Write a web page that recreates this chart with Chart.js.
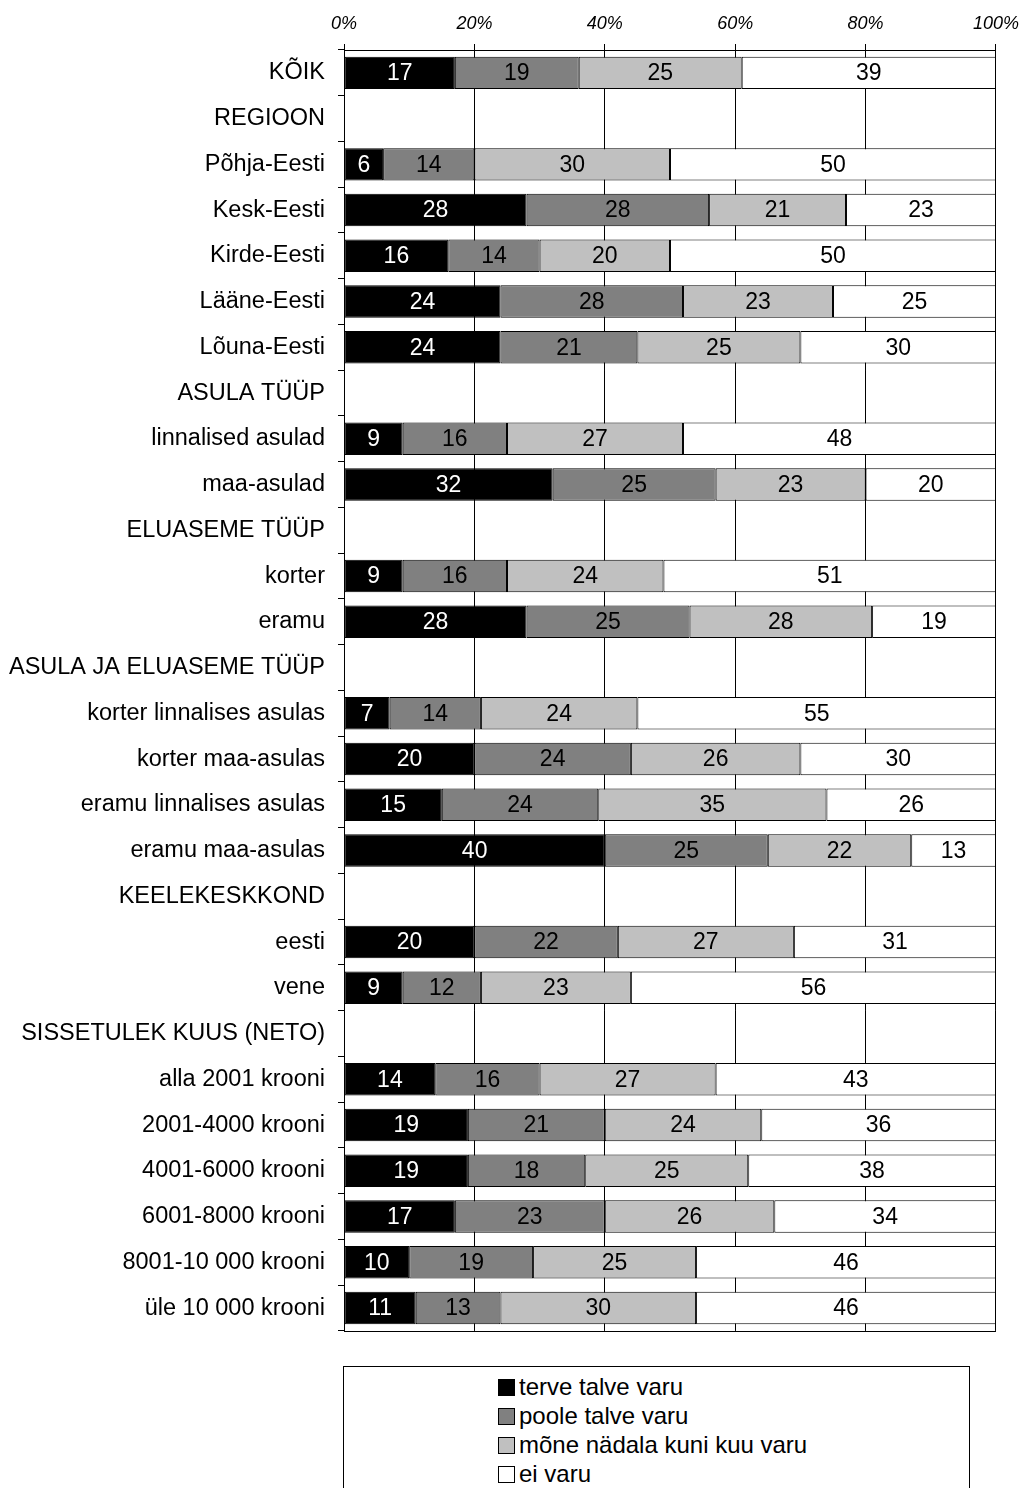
<!DOCTYPE html>
<html>
<head>
<meta charset="utf-8">
<script src="https://cdn.jsdelivr.net/npm/chart.js@4.4.1/dist/chart.umd.min.js"></script>
<style>
    body { margin: 0; background: #fff; font-family: Arial, "Liberation Sans", sans-serif; }
    #wrap { position: relative; width: 1021px; height: 1488px; overflow: hidden; }
    #chartBox { position: absolute; left: 0; top: 0; width: 1028px; height: 1358px; }
    #legendBox {
        position: absolute; left: 343px; top: 1366px; width: 627px; height: 140px;
        border: 1px solid #000; box-sizing: border-box;
    }
    .item { position: absolute; left: 154px; height: 29px; line-height: 29px; font-size: 24px; color: #000; white-space: nowrap; }
    .sq { display: inline-block; width: 17px; height: 17px; border: 1px solid #000; box-sizing: border-box; margin-right: 4px; vertical-align: -1px; }
</style>
</head>
<body>
<div id="wrap">
    <div id="chartBox"><canvas id="myChart"></canvas></div>
    <div id="legendBox"></div>
</div>
<script>
const categories = [
    'KÕIK', 'REGIOON', 'Põhja-Eesti', 'Kesk-Eesti', 'Kirde-Eesti', 'Lääne-Eesti', 'Lõuna-Eesti',
    'ASULA TÜÜP', 'linnalised asulad', 'maa-asulad',
    'ELUASEME TÜÜP', 'korter', 'eramu',
    'ASULA JA ELUASEME TÜÜP', 'korter linnalises asulas', 'korter maa-asulas', 'eramu linnalises asulas', 'eramu maa-asulas',
    'KEELEKESKKOND', 'eesti', 'vene',
    'SISSETULEK KUUS (NETO)', 'alla 2001 krooni', '2001-4000 krooni', '4001-6000 krooni', '6001-8000 krooni', '8001-10 000 krooni', 'üle 10 000 krooni'
];
const seriesNames = ['terve talve varu', 'poole talve varu', 'mõne nädala kuni kuu varu', 'ei varu'];

// null = header row without a bar
const terveTalve = [17, null, 6, 28, 16, 24, 24, null, 9, 32, null, 9, 28, null, 7, 20, 15, 40, null, 20, 9, null, 14, 19, 19, 17, 10, 11];
const pooleTalve = [19, null, 14, 28, 14, 28, 21, null, 16, 25, null, 16, 25, null, 14, 24, 24, 25, null, 22, 12, null, 16, 21, 18, 23, 19, 13];
const moneNadala = [25, null, 30, 21, 20, 23, 25, null, 27, 23, null, 24, 28, null, 24, 26, 35, 22, null, 27, 23, null, 27, 24, 25, 26, 25, 30];
const eiVaru = [39, null, 50, 23, 50, 25, 30, null, 48, 20, null, 51, 19, null, 55, 30, 26, 13, null, 31, 56, null, 43, 36, 38, 34, 46, 46];
const xTicks = [0, 20, 40, 60, 80, 100];

const colors = ['#000000', '#808080', '#C0C0C0', '#FFFFFF'];
const labelColors = ['#FFFFFF', '#000000', '#000000', '#000000'];
const allSeries = [terveTalve, pooleTalve, moneNadala, eiVaru];

const font = 'Arial, "Liberation Sans", sans-serif';

const valueLabels = {
    id: 'valueLabels',
    afterDatasetsDraw(chart) {
        const ctx = chart.ctx;
        ctx.save();
        ctx.font = '23px ' + font;
        ctx.textAlign = 'center';
        ctx.textBaseline = 'middle';
        chart.data.datasets.forEach((ds, i) => {
            const meta = chart.getDatasetMeta(i);
            meta.data.forEach((bar, j) => {
                const v = ds.data[j];
                if (v === null) return;
                const p = bar.getProps(['x', 'y', 'base'], true);
                ctx.fillStyle = labelColors[i];
                ctx.fillText(String(v), (p.x + p.base) / 2, p.y + 1);
            });
        });
        ctx.restore();
    }
};

const frame = {
    id: 'frame',
    afterDraw(chart) {
        const a = chart.chartArea;
        const ctx = chart.ctx;
        ctx.save();
        ctx.strokeStyle = '#000';
        ctx.lineWidth = 1;
        ctx.beginPath();
        ctx.moveTo(a.left, Math.round(a.bottom) + 0.5);
        ctx.lineTo(a.right, Math.round(a.bottom) + 0.5);
        ctx.stroke();
        ctx.restore();
    }
};

const data = {
    labels: categories,
    datasets: allSeries.map((s, i) => ({
        label: seriesNames[i],
        data: s,
        backgroundColor: colors[i],
        borderColor: '#000000',
        borderWidth: 1,
        borderSkipped: false,
        barPercentage: 0.71,
        categoryPercentage: 1
    }))
};

const config = {
    type: 'bar',
    data: data,
    options: {
        indexAxis: 'y',
        responsive: true,
        maintainAspectRatio: false,
        animation: false,
        layout: { padding: 0 },
        plugins: { legend: { display: false }, tooltip: { enabled: false } },
        scales: {
            x: {
                position: 'top',
                stacked: true,
                min: 0,
                max: 100,
                afterBuildTicks: (scale) => { scale.ticks = xTicks.map(v => ({ value: v })); },
                afterFit: (scale) => { scale.height = 50; },
                ticks: {
                    callback: (v) => v + '%',
                    color: '#000',
                    padding: 9,
                    maxRotation: 0,
                    font: { family: font, size: 18, style: 'italic' }
                },
                grid: { color: '#000', lineWidth: 1, tickLength: 6 },
                border: { color: '#000', width: 1 }
            },
            y: {
                stacked: true,
                afterFit: (scale) => { scale.width = 344; },
                ticks: {
                    color: '#000',
                    padding: 13,
                    autoSkip: false,
                    font: { family: font, size: 23.5 }
                },
                grid: { drawOnChartArea: false, color: '#000', tickLength: 6 },
                border: { color: '#000', width: 1 }
            }
        }
    },
    plugins: [valueLabels, frame]
};

var myChart = new Chart(document.getElementById('myChart'), config);

// legend box
const legendBox = document.getElementById('legendBox');
seriesNames.forEach((name, i) => {
    const item = document.createElement('div');
    item.className = 'item';
    item.style.top = (5 + i * 29) + 'px';
    const sq = document.createElement('span');
    sq.className = 'sq';
    sq.style.background = colors[i];
    item.appendChild(sq);
    item.appendChild(document.createTextNode(name));
    legendBox.appendChild(item);
});
</script>
</body>
</html>
